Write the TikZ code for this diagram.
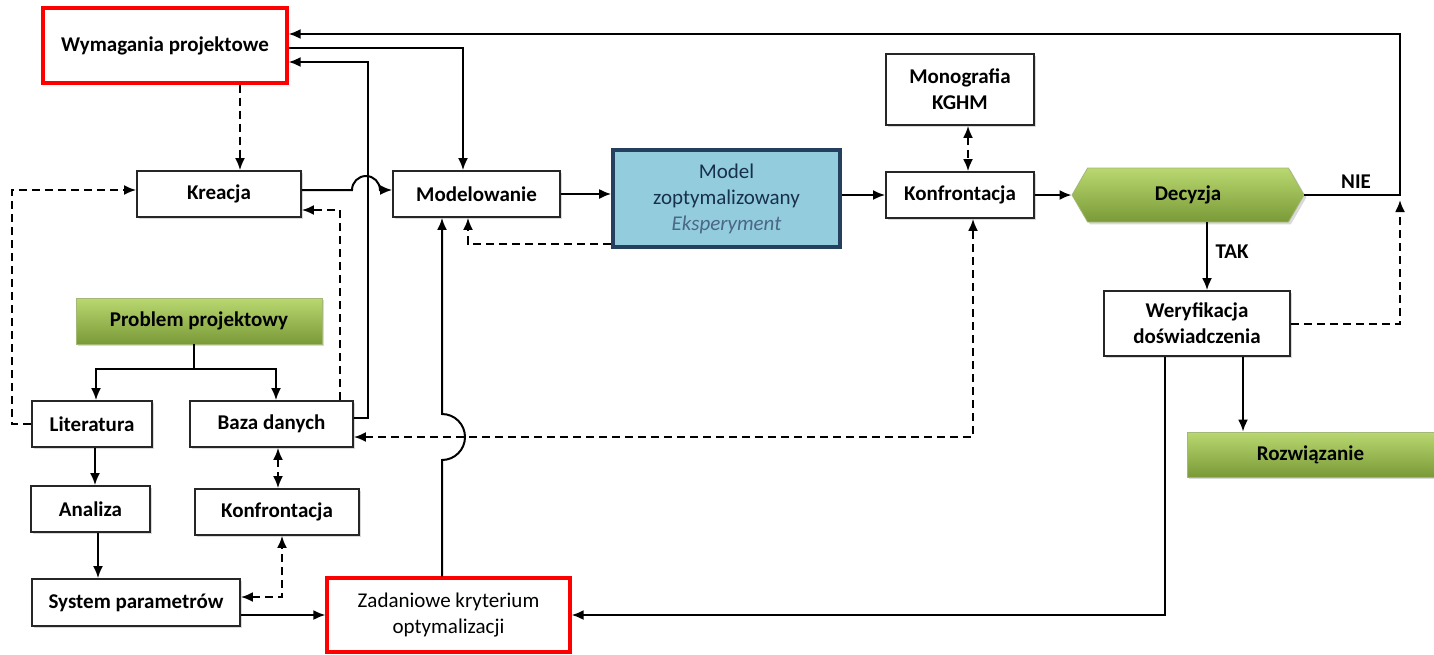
\documentclass[tikz,border=0pt]{standalone}
\usepackage{fontspec}
\setmainfont{Carlito}
\usetikzlibrary{arrows.meta,shadows,shapes.symbols}
\definecolor{grnhi}{HTML}{B9D870}
\definecolor{grnlo}{HTML}{7A9A38}
\definecolor{modfill}{HTML}{93CDDD}
\definecolor{modline}{HTML}{24405E}
\definecolor{modtext}{HTML}{17304E}
\definecolor{modsub}{HTML}{4A6785}

\begin{document}
\begin{tikzpicture}[x=0.5pt,y=-0.5pt,
  font=\fontsize{10.5}{13}\selectfont,
  >={Latex[length=6pt,width=5pt]},
  box/.style={draw=black!85,line width=0.9pt,fill=white,align=center,inner sep=1pt,
    font=\fontsize{10.5}{13}\selectfont\bfseries,
    drop shadow={shadow xshift=1.2pt,shadow yshift=-1.2pt,opacity=0.3}},
  redbox/.style={box,draw=red,line width=1.6pt},
  greenbox/.style={box,draw=grnlo!70!white,line width=0.4pt,top color=grnhi,bottom color=grnlo},
  conn/.style={line width=1pt},
  dsh/.style={conn,dash pattern=on 4pt off 2.5pt}]
  \useasboundingbox (0,0) rectangle (1434,654);

  % Upper row
  \node[redbox,minimum width=122pt,minimum height=37.5pt] (wym) at (165,45.5) {Wymagania projektowe};
  \node[box,minimum width=82pt,minimum height=23pt] (krea) at (219,194) {Kreacja};
  \node[box,minimum width=83.5pt,minimum height=23pt] (mode) at (476.5,194) {Modelowanie};
  \node[box,fill=modfill,draw=modline,line width=1.8pt,minimum width=113.5pt,minimum height=48.5pt,
    font=\fontsize{10.5}{13}\selectfont,text=modtext] (model) at (726.5,198.5)
    {Model\\zoptymalizowany\\\textcolor{modsub}{\itshape Eksperyment}};
  \node[box,minimum width=74pt,minimum height=35.5pt] (mono) at (960,89.5) {Monografia\\KGHM};
  \node[box,minimum width=74pt,minimum height=23pt] (konf) at (960,195) {Konfrontacja};
  \node[greenbox,signal,signal to=east and west,signal pointer angle=120,
    minimum width=116pt,minimum height=27pt] (dec) at (1188,195) {Decyzja};
  \node[box,minimum width=93pt,minimum height=32.5pt] (wer) at (1197,323.5) {Weryfikacja\\doświadczenia};
  \node[greenbox,minimum width=123.5pt,minimum height=22.5pt] (roz) at (1310.5,454.5) {Rozwiązanie};

  % Lower left part
  \node[greenbox,minimum width=123pt,minimum height=23pt] (prob) at (199,321) {Problem projektowy};
  \node[box,minimum width=60pt,minimum height=23pt] (lit) at (92,424) {Literatura};
  \node[box,minimum width=81.5pt,minimum height=23pt] (baza) at (271.5,424) {Baza danych};
  \node[box,minimum width=59.5pt,minimum height=23pt] (anal) at (90.5,509) {Analiza};
  \node[box,minimum width=82pt,minimum height=23pt] (konfb) at (277,512) {Konfrontacja};
  \node[box,minimum width=104pt,minimum height=23.5pt] (sys) at (136,602.5) {System parametrów};
  \node[redbox,minimum width=121.5pt,minimum height=37pt,font=\fontsize{10.5}{13}\selectfont] (zad) at (448.5,615)
    {Zadaniowe kryterium\\optymalizacji};

  % Feedback loops
  \draw[conn,->] (dec.east) -- (1400,195) -- (1400,34) -- (wym.east |- 0,34);
  \node[font=\fontsize{10.5}{13}\selectfont\bfseries] (nie) at (1356,182) {NIE};
  \draw[dsh,->] (wer.east) -- (1400,323.5) -- (1400,200);
  \draw[conn,->] (wym.east |- 0,48) -| (mode.north -| 463,0);
  \draw[conn,->] (baza.east |- 0,418) -- (368,418) |- (wym.east |- 0,62);
  \draw[dsh,->] (wym.south -| 240,0) -- (krea.north -| 240,0);
  \draw[conn,->] (krea.east |- 0,190) -- (352,190) arc[start angle=180,end angle=360,radius=14]
    -- (mode.west |- 0,190);
  \draw[dsh,->] (baza.north -| 340,0) -- (340,210) -- (krea.east |- 0,210);
  \draw[dsh,->] (lit.west) -- (12,424) |- (krea.west |- 0,190);

  % Lower left connections
  \draw[conn,->] (prob.south -| 194,0) -- (194,369) -| (lit.north -| 96,0);
  \draw[conn,->] (194,369) -| (baza.north -| 276,0);
  \draw[conn,->] (lit.south -| 95,0) -- (anal.north -| 95,0);
  \draw[conn,->] (anal.south -| 98,0) -- (sys.north -| 98,0);
  \draw[dsh,<->] (baza.south -| 278,0) -- (konfb.north -| 278,0);
  \draw[dsh,<->] (sys.east |- 0,597) -| (konfb.south -| 282,0);
  \draw[conn,->] (sys.east |- 0,615) -- (zad.west |- 0,615);
  \draw[conn,->] (zad.north -| 442,0) -- (442,460) arc[start angle=90,end angle=-90,radius=23]
    -- (mode.south -| 442,0);

  % Main line
  \draw[dsh,->] (model.west |- 0,244) -| (mode.south -| 468,0);
  \draw[conn,->] (mode.east) -- (mode.east -| model.west);
  \draw[conn,->] (model.east |- konf.west) -- (konf.west);
  \draw[dsh,<->] (mono.south -| 968,0) -- (konf.north -| 968,0);
  \draw[conn,->] (konf.east) -- (dec.west);
  \draw[conn,->] (dec.south -| 1207,0) -- (wer.north -| 1207,0);
  \node[font=\fontsize{10.5}{13}\selectfont\bfseries] (tak) at (1232,252) {TAK};
  \draw[conn,->] (wer.south -| 1243,0) -- (roz.north -| 1243,0);
  \draw[conn,->] (wer.south -| 1165,0) |- (zad.east);
  \draw[dsh,<->] (baza.east |- 0,437) -| (konf.south -| 973,0);
\end{tikzpicture}
\end{document}
